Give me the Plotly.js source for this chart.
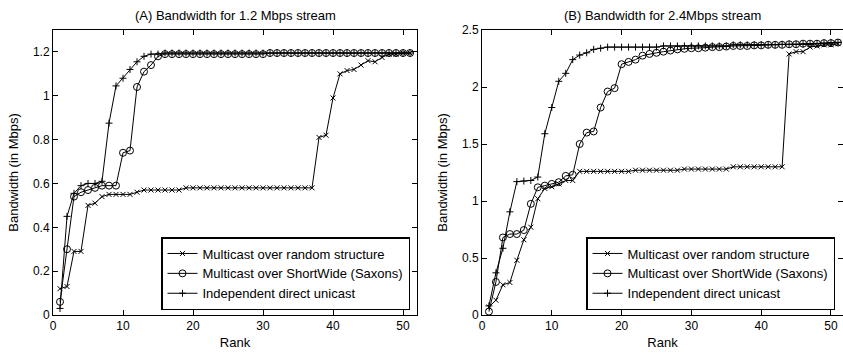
<!DOCTYPE html>
<html>
<head>
<meta charset="utf-8">
<script src="https://cdn.plot.ly/plotly-3.0.1.min.js"></script>
<style>html,body{margin:0;padding:0;background:#fff;}#chart{width:843px;height:354px;}</style>
</head>
<body>
<div id="chart"></div>
<script>
// Rank (x values)
const rank = [1,2,3,4,5,6,7,8,9,10,11,12,13,14,15,16,17,18,19,20,21,22,23,24,25,26,27,28,29,30,31,32,33,34,35,36,37,38,39,40,41,42,43,44,45,46,47,48,49,50,51];

// (A) 1.2 Mbps stream
const aRandom = [0.12,0.13,0.29,0.29,0.50,0.51,0.54,0.55,0.55,0.55,0.55,0.56,0.57,0.57,0.57,0.57,0.57,0.57,
  0.58,0.58,0.58,0.58,0.58,0.58,0.58,0.58,0.58,0.58,0.58,0.58,0.58,0.58,0.58,0.58,0.58,0.58,0.58,
  0.81,0.82,0.99,1.10,1.115,1.12,1.14,1.16,1.155,1.175,1.19,1.19,1.195,1.195];
const aSaxons = [0.06,0.30,0.54,0.56,0.57,0.58,0.59,0.59,0.59,0.74,0.75,1.04,1.11,1.14,1.18,
  1.19,1.19,1.19,1.19,1.19,1.19,1.19,1.19,1.19,1.19,1.19,1.19,1.19,1.19,1.19,
  1.195,1.195,1.195,1.195,1.195,1.195,1.195,1.195,1.195,1.195,1.195,1.195,1.195,1.195,1.195,1.195,1.195,1.195,1.195,1.195,1.195];
const aUnicast = [0.03,0.45,0.555,0.59,0.60,0.60,0.61,0.875,1.045,1.08,1.12,1.155,1.18,1.19,1.19,
  1.195,1.195,1.195,1.195,1.195,1.195,1.195,1.195,1.195,1.195,1.195,1.195,1.195,1.195,1.195,1.195,1.195,1.195,
  1.195,1.195,1.195,1.195,1.195,1.195,1.195,1.195,1.195,1.195,1.195,1.195,1.195,1.195,1.195,1.195,1.195,1.195];

// (B) 2.4 Mbps stream
const bRandom = [0.07,0.13,0.265,0.285,0.48,0.66,0.77,1.02,1.11,1.125,1.15,1.18,1.18,1.26,
  1.26,1.26,1.26,1.26,1.26,1.26,1.26,
  1.27,1.27,1.27,1.27,1.27,1.27,1.27,
  1.28,1.28,1.28,1.28,1.28,1.28,1.28,
  1.30,1.30,1.30,1.30,1.30,1.30,1.30,1.30,
  2.29,2.31,2.31,2.35,2.36,2.37,2.37,2.38];
const bSaxons = [0.03,0.29,0.68,0.71,0.71,0.745,0.975,1.12,1.135,1.15,1.165,1.22,1.23,1.50,1.60,1.61,1.82,1.96,1.99,
  2.20,2.22,2.24,2.275,2.29,2.30,2.31,2.32,2.33,2.335,2.34,2.34,2.345,2.35,2.35,2.355,2.36,2.36,2.36,2.365,2.365,
  2.37,2.37,2.37,2.375,2.375,2.38,2.38,2.38,2.385,2.385,2.39];
const bUnicast = [0.08,0.37,0.585,0.905,1.17,1.175,1.18,1.21,1.59,1.82,2.05,2.12,2.24,2.28,2.30,2.33,2.34,
  2.35,2.35,2.35,2.35,2.35,2.35,2.35,2.35,
  2.36,2.36,2.36,2.36,2.36,2.36,2.36,2.36,2.36,2.36,
  2.37,2.37,2.37,2.37,2.37,2.37,2.37,
  2.375,2.375,2.375,2.375,2.375,
  2.38,2.385,2.39,2.39];

const names = ["Multicast over random structure", "Multicast over ShortWide (Saxons)", "Independent direct unicast"];
const titles = ["(A) Bandwidth for 1.2 Mbps stream", "(B) Bandwidth for 2.4Mbps stream"];

const FONT = "Liberation Sans, Arial, Helvetica, sans-serif";
const styles = [
  {symbol: "x-thin-open", size: 5},
  {symbol: "circle-open", size: 7},
  {symbol: "cross-thin-open", size: 5}
];

function mk(y, i, xa, ya, leg) {
  return {
    x: rank, y: y, type: "scatter", mode: "lines+markers", name: names[i],
    xaxis: xa, yaxis: ya, legend: leg,
    line: {color: "black", width: 1},
    marker: {symbol: styles[i].symbol, size: styles[i].size, color: "black",
             line: {color: "black", width: 1}}
  };
}

const data = [
  mk(aRandom, 0, "x", "y", "legend"),
  mk(aSaxons, 1, "x", "y", "legend"),
  mk(aUnicast, 2, "x", "y", "legend"),
  mk(bRandom, 0, "x2", "y2", "legend2"),
  mk(bSaxons, 1, "x2", "y2", "legend2"),
  mk(bUnicast, 2, "x2", "y2", "legend2")
];

const axBase = {
  showline: true, linecolor: "black", linewidth: 1, mirror: "allticks",
  ticks: "inside", ticklen: 5, tickwidth: 1, tickcolor: "black",
  showgrid: false, zeroline: false,
  tickfont: {family: FONT, size: 12, color: "black"}
};
const tFont = {family: FONT, size: 13, color: "black"};

const legBase = {
  bgcolor: "white", bordercolor: "black", borderwidth: 1.5,
  font: tFont,
  xanchor: "right", yanchor: "bottom", tracegroupgap: 0, itemwidth: 30
};

const layout = {
  width: 843, height: 354,
  margin: {l: 53, r: 0, t: 30, b: 39},
  paper_bgcolor: "white", plot_bgcolor: "white",
  font: {family: FONT, size: 12, color: "black"},
  xaxis: Object.assign({}, axBase, {domain: [0, 0.4608], range: [0, 52], dtick: 10, tick0: 0,
    title: {text: "Rank", font: tFont, standoff: 5}, anchor: "y"}),
  yaxis: Object.assign({}, axBase, {domain: [0, 1], range: [0, 1.3], dtick: 0.2, tick0: 0,
    title: {text: "Bandwidth (in Mbps)", font: tFont, standoff: 11}, anchor: "x"}),
  xaxis2: Object.assign({}, axBase, {domain: [0.543, 1], range: [0, 51.72], dtick: 10, tick0: 0,
    title: {text: "Rank", font: tFont, standoff: 5}, anchor: "y2"}),
  yaxis2: Object.assign({}, axBase, {domain: [0, 1], range: [0, 2.5], dtick: 0.5, tick0: 0,
    title: {text: "Bandwidth (in Mbps)", font: tFont, standoff: 11}, anchor: "x2"}),
  legend: Object.assign({}, legBase, {x: 0.4519, y: 0.0175}),
  legend2: Object.assign({}, legBase, {x: 0.9899, y: 0.0175}),
  showlegend: true,
  annotations: [
    {text: titles[0], xref: "paper", yref: "paper", x: 0.2304, y: 1.0526, xanchor: "center", yanchor: "middle",
     showarrow: false, font: tFont},
    {text: titles[1], xref: "paper", yref: "paper", x: 0.7715, y: 1.0526, xanchor: "center", yanchor: "middle",
     showarrow: false, font: tFont}
  ]
};

Plotly.newPlot("chart", data, layout, {displayModeBar: false, staticPlot: true});
</script>
</body>
</html>
